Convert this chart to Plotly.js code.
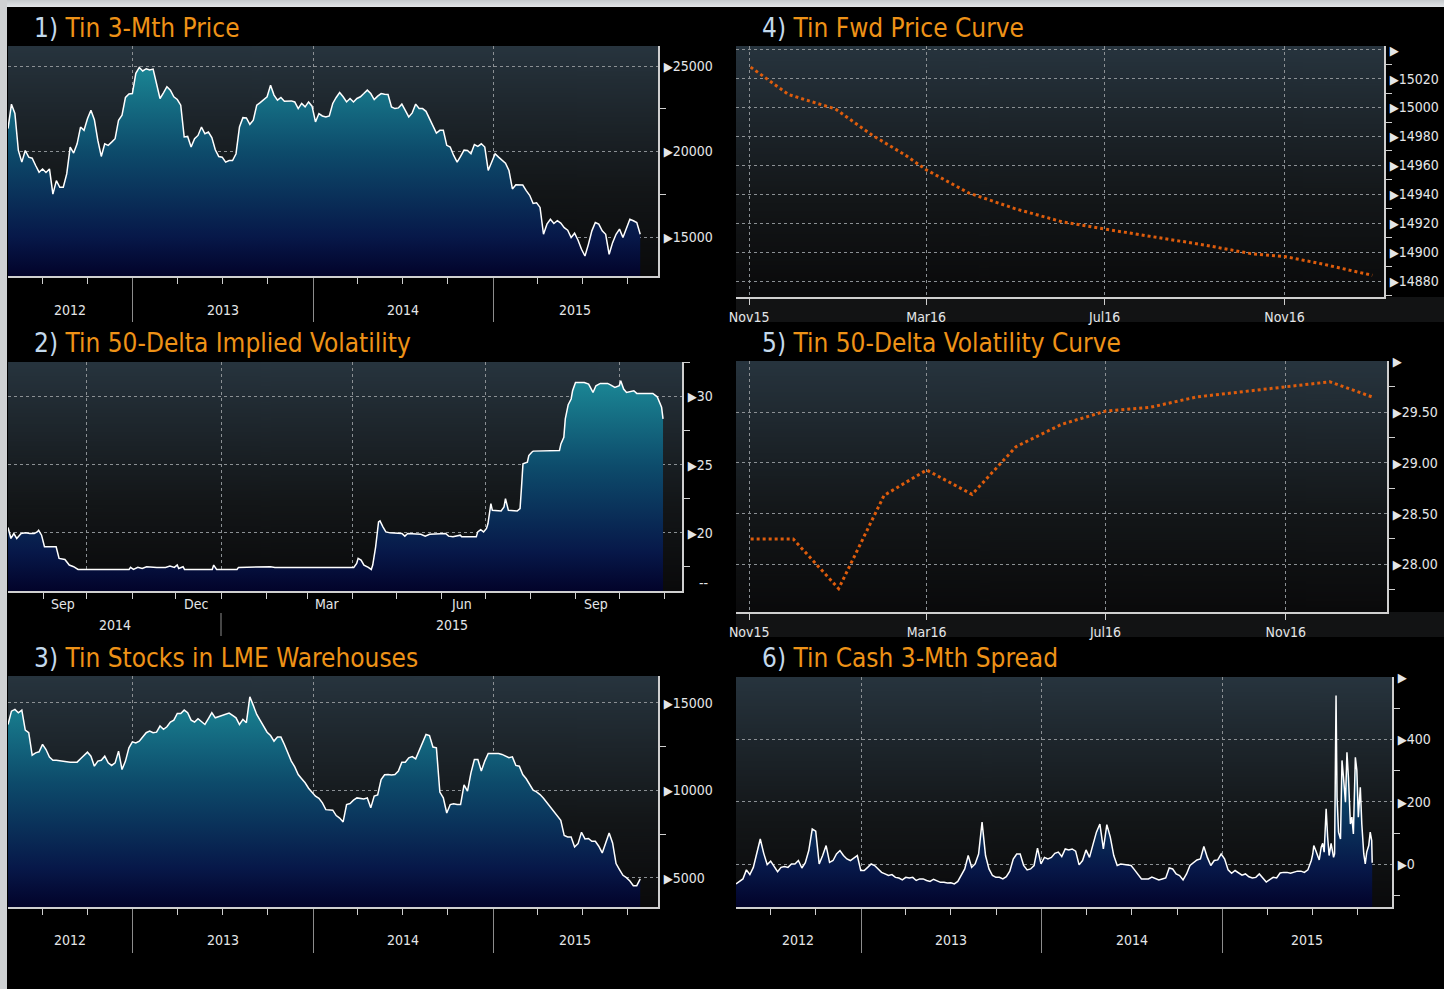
<!DOCTYPE html>
<html><head><meta charset="utf-8">
<script src="https://cdn.plot.ly/plotly-3.0.1.min.js"></script>
<style>
html,body{margin:0;padding:0;background:#000;width:1444px;height:989px;overflow:hidden}
#chart{position:absolute;left:0;top:0;width:1444px;height:989px}
#frameTop{position:absolute;left:0;top:0;width:1444px;height:7px;background:linear-gradient(#c6cacd,#e2e5e8);z-index:5}
#frameLeft{position:absolute;left:0;top:0;width:7px;height:989px;background:#cfd1d3;z-index:5}
</style></head>
<body><div id="chart"></div><div id="frameTop"></div><div id="frameLeft"></div>
<script>
// ---------------- DATA ----------------
const weeklyDates = [
'2012-04-23','2012-04-30','2012-05-07','2012-05-14','2012-05-21','2012-05-28','2012-06-04','2012-06-11','2012-06-18','2012-06-25',
'2012-07-02','2012-07-09','2012-07-16','2012-07-23','2012-07-30','2012-08-06','2012-08-13','2012-08-20','2012-08-27','2012-09-03',
'2012-09-10','2012-09-17','2012-09-24','2012-10-01','2012-10-08','2012-10-15','2012-10-22','2012-10-29','2012-11-05','2012-11-12',
'2012-11-19','2012-11-26','2012-12-03','2012-12-10','2012-12-17','2012-12-24','2012-12-31','2013-01-07','2013-01-14','2013-01-21',
'2013-01-28','2013-02-04','2013-02-11','2013-02-18','2013-02-25','2013-03-04','2013-03-11','2013-03-18','2013-03-25','2013-04-01',
'2013-04-08','2013-04-15','2013-04-22','2013-04-29','2013-05-06','2013-05-13','2013-05-20','2013-05-27','2013-06-03','2013-06-10',
'2013-06-17','2013-06-24','2013-07-01','2013-07-08','2013-07-15','2013-07-22','2013-07-29','2013-08-05','2013-08-12','2013-08-19',
'2013-08-26','2013-09-02','2013-09-09','2013-09-16','2013-09-23','2013-09-30','2013-10-07','2013-10-14','2013-10-21','2013-10-28',
'2013-11-04','2013-11-11','2013-11-18','2013-11-25','2013-12-02','2013-12-09','2013-12-16','2013-12-23','2013-12-30','2014-01-06',
'2014-01-13','2014-01-20','2014-01-27','2014-02-03','2014-02-10','2014-02-17','2014-02-24','2014-03-03','2014-03-10','2014-03-17',
'2014-03-24','2014-03-31','2014-04-07','2014-04-14','2014-04-21','2014-04-28','2014-05-05','2014-05-12','2014-05-19','2014-05-26',
'2014-06-02','2014-06-09','2014-06-16','2014-06-23','2014-06-30','2014-07-07','2014-07-14','2014-07-21','2014-07-28','2014-08-04',
'2014-08-11','2014-08-18','2014-08-25','2014-09-01','2014-09-08','2014-09-15','2014-09-22','2014-09-29','2014-10-06','2014-10-13',
'2014-10-20','2014-10-27','2014-11-03','2014-11-10','2014-11-17','2014-11-24','2014-12-01','2014-12-08','2014-12-15','2014-12-22',
'2014-12-29','2015-01-05','2015-01-12','2015-01-19','2015-01-26','2015-02-02','2015-02-09','2015-02-16','2015-02-23','2015-03-02',
'2015-03-09','2015-03-16','2015-03-23','2015-03-30','2015-04-06','2015-04-13','2015-04-20','2015-04-27','2015-05-04','2015-05-11',
'2015-05-18','2015-05-25','2015-06-01','2015-06-08','2015-06-15','2015-06-22','2015-06-29','2015-07-06','2015-07-13','2015-07-20',
'2015-07-27','2015-08-03','2015-08-10','2015-08-17','2015-08-24','2015-08-31','2015-09-07','2015-09-14','2015-09-21','2015-09-28',
'2015-10-05','2015-10-12','2015-10-19','2015-10-26'];

// 1) Tin 3-Mth Price (USD/t)
const tinPrice = [
21340,22770,22220,20060,19380,20060,19670,19610,19180,18790,
18980,18770,18980,17510,18300,17910,17910,18690,20260,19910,
20450,21430,21240,21920,22410,21860,20650,19710,20450,20360,
20550,20750,21830,22120,23160,23370,23390,24570,24920,24710,
24840,24770,24820,23980,23100,23430,23790,23590,23200,23040,
22710,20850,20880,20260,20750,20940,21430,21040,21140,20810,
20100,19710,19670,19380,19470,19470,19870,21430,21980,21960,
21590,21830,22710,22860,23060,23200,23880,23300,23000,23160,
22940,22960,22960,22900,22510,22810,22610,22900,22650,21730,
22220,22080,22020,22080,22810,23160,23450,23200,22900,23100,
22900,23100,23200,23390,23590,23390,23040,23240,23390,23350,
23330,22610,22510,22550,22770,22410,22020,22260,22770,22510,
22510,22350,21920,21490,21080,21240,21240,20360,20260,19770,
19380,19710,20080,20060,19870,20410,20300,20450,20260,18890,
19380,19870,19670,19470,19320,18890,17810,18060,18060,18040,
17710,17440,16960,17000,16730,15160,15750,16040,15790,15950,
15810,15550,15400,14970,15220,14810,14280,13890,14570,15360,
15850,15750,15360,15160,13990,14670,15160,15460,14970,15460,
16040,15950,15850,15160];

// 3) Tin Stocks in LME Warehouses (t)
const lmeStocks = [
13760,14520,14620,14430,14580,13440,13290,12010,12140,12200,
12620,12330,11900,11720,11720,11690,11650,11610,11610,11610,
11610,11800,11990,12180,11950,11380,11670,11720,11950,11570,
11420,11570,12240,11190,11670,12430,12770,12710,12810,13060,
13290,13380,13290,13320,13670,13480,13630,13900,14010,14390,
14390,14580,14430,14010,13900,14090,13900,13760,14090,14430,
14140,14200,14300,14350,14410,14280,14140,13760,14050,13860,
15340,14850,14330,13990,13670,13320,13130,12810,13040,13040,
12620,12100,11670,11340,10900,10660,10430,10120,9900,9670,
9550,9290,8900,8870,8870,8560,8420,8200,9190,9250,
9440,9570,9550,9510,9570,9000,9670,9740,10620,10890,
10900,10870,10900,11100,11610,11610,11860,11930,11800,12240,
12710,13190,13130,12470,12430,9900,9570,8710,9190,9230,
9190,9190,10310,9950,11000,11760,11760,11100,11670,12100,
12100,12100,12100,12050,11950,11860,11910,11420,11380,10900,
10660,10330,10010,9910,9760,9550,9290,9060,8810,8520,
8290,7420,7340,7340,6770,6960,7610,7230,7250,7090,
7090,6810,6430,7000,7570,7000,5820,5480,5150,5020,
4830,4560,4560,4950];

// 6) Tin Cash 3-Mth Spread (weekly to end of June 2015, then denser)
const spreadWeekly = [
-63,-55,-47,-18,-33,-10,33,81,35,-1,
10,-7,-24,-10,-7,-10,1,1,12,-12,
5,44,113,106,1,28,60,6,12,33,
44,28,17,12,20,28,-20,-20,-10,1,
-4,-15,-26,-31,-36,-33,-42,-44,-50,-42,
-44,-42,-52,-47,-47,-52,-55,-48,-52,-58,
-58,-60,-59,-63,-55,-36,-15,28,-10,1,
33,135,28,-15,-36,-42,-42,-47,-40,-22,
17,33,33,-4,-18,-15,-4,52,1,22,
17,22,35,39,25,49,46,49,42,-2,
12,46,22,63,103,129,49,127,87,28,
-4,1,-1,-4,-4,-18,-31,-47,-47,-47,
-41,-46,-50,-47,-44,-12,-15,-31,-36,-50,
-31,-4,6,14,17,57,22,-4,12,14,
33,17,-18,-29,-20,-29,-35,-31,-40,-44,
-42,-31,-46,-57,-49,-42,-44,-28,-26,-26,
-29,-25,-22,-22,-26,-18,12];
const spreadLateDates = ['2015-07-02','2015-07-04','2015-07-08','2015-07-12','2015-07-15','2015-07-19','2015-07-22','2015-07-25','2015-07-29','2015-08-01',
'2015-08-04','2015-08-08','2015-08-13','2015-08-15','2015-08-18','2015-08-20','2015-08-23','2015-08-27','2015-08-30','2015-09-02',
'2015-09-06','2015-09-09','2015-09-12','2015-09-16','2015-09-19','2015-09-22','2015-09-26','2015-09-29','2015-10-02','2015-10-06',
'2015-10-09','2015-10-13','2015-10-16','2015-10-19','2015-10-23','2015-10-26','2015-10-29','2015-10-30'];
const spreadLate = [33,60,44,22,14,55,67,39,178,87,
28,67,22,33,541,215,103,81,333,279,
199,359,279,129,151,97,343,301,151,247,
129,33,1,39,60,103,76,5];

// 2) Tin 50-Delta Implied Volatility
const volDates = ['2014-08-08','2014-08-10','2014-08-12','2014-08-14','2014-08-17','2014-08-20','2014-08-23','2014-08-26','2014-08-28','2014-08-29',
'2014-08-31','2014-09-02','2014-09-10','2014-09-12','2014-09-16','2014-09-19','2014-09-22','2014-09-25','2014-10-30','2014-10-31',
'2014-11-02','2014-11-05','2014-11-08','2014-11-11','2014-11-18','2014-11-24','2014-11-27','2014-11-30','2014-12-02','2014-12-03',
'2014-12-06','2014-12-07','2014-12-26','2014-12-27','2014-12-29','2015-01-12','2015-01-13','2015-02-03','2015-02-04','2015-02-07',
'2015-04-02','2015-04-04','2015-04-05','2015-04-07','2015-04-09','2015-04-12','2015-04-14','2015-04-15','2015-04-17','2015-04-19',
'2015-04-20','2015-04-22','2015-04-24','2015-04-27','2015-05-05','2015-05-07','2015-05-09','2015-05-18','2015-05-21','2015-05-24',
'2015-06-01','2015-06-04','2015-06-06','2015-06-09','2015-06-14','2015-06-15','2015-06-25','2015-06-26','2015-06-28','2015-06-30',
'2015-07-02','2015-07-03','2015-07-05','2015-07-06','2015-07-12','2015-07-14','2015-07-15','2015-07-17','2015-07-23','2015-07-25',
'2015-07-26','2015-07-27','2015-07-30','2015-07-31','2015-08-02','2015-08-03','2015-08-21','2015-08-22','2015-08-24','2015-08-25',
'2015-08-27','2015-08-29','2015-08-30','2015-09-01','2015-09-07','2015-09-10','2015-09-13','2015-09-15','2015-09-18','2015-09-23',
'2015-09-25','2015-09-28','2015-10-01','2015-10-02','2015-10-04','2015-10-06','2015-10-11','2015-10-13','2015-10-24','2015-10-27',
'2015-10-30','2015-10-31'];
const impliedVol = [20.39,19.59,19.95,19.59,19.95,20.0,19.95,19.95,20.07,20.19,
19.83,18.98,18.98,18.13,18.05,17.64,17.52,17.32,17.32,17.47,
17.32,17.47,17.39,17.52,17.47,17.47,17.57,17.47,17.64,17.39,
17.52,17.32,17.32,17.64,17.32,17.32,17.47,17.57,17.52,17.47,
17.47,17.76,18.13,18.0,17.64,17.47,17.32,17.64,18.98,20.8,
20.88,20.44,20.07,20.0,19.95,19.76,19.95,19.9,19.76,19.9,
19.9,19.95,19.76,19.71,19.83,19.71,19.71,20.07,20.24,20.07,
20.32,20.68,22.14,21.65,21.6,21.9,22.51,21.65,21.6,21.78,
23.36,25.06,25.18,25.67,25.91,25.99,26.03,26.52,27.01,28.35,
29.39,29.81,30.41,31.02,31.02,30.9,30.29,30.78,30.95,30.95,
30.85,30.66,30.78,31.14,30.54,30.29,30.41,30.22,30.22,29.97,
29.2,28.35];

// 4) Tin Fwd Price Curve
const fwdDates = ['2015-11-02','2015-11-13','2015-11-28','2015-12-14','2015-12-30','2016-01-24','2016-02-16','2016-03-01','2016-03-30',
'2016-05-01','2016-06-02','2016-07-01','2016-08-07','2016-09-07','2016-10-09','2016-11-01','2016-11-26','2016-12-31'];
const fwdPrice = [15028,15020,15009,15004,14999,14981,14967,14957,14941,14930,14921,14916,14910,14905,14899,14897,14892,14884];

// 5) Tin 50-Delta Volatility Curve
const volCurveDates = ['2015-11-02','2015-12-01','2016-01-01','2016-02-01','2016-03-01','2016-04-01','2016-05-01','2016-06-01',
'2016-07-01','2016-08-01','2016-09-01','2016-10-01','2016-11-01','2016-12-01','2016-12-30'];
const volCurve = [28.25,28.25,27.76,28.68,28.93,28.69,29.16,29.38,29.51,29.55,29.65,29.70,29.75,29.80,29.65];

// Axis ticks / labels
const yearBounds = ['2013-01-01','2014-01-01','2015-01-01'];
const quarterTicks = ['2012-07-01','2012-10-01','2013-04-01','2013-07-01','2013-10-01','2014-04-01','2014-07-01','2014-10-01','2015-04-01','2015-07-01','2015-10-01'];
const yearLabels = ['2012','2013','2014','2015'];
const yearLabelDates = ['2012-08-27','2013-07-02','2014-07-02','2015-06-16'];
const yearLabelDates6 = ['2012-08-27','2013-07-02','2014-07-02','2015-06-20'];
const volQuarterTicks = ['2014-10-01','2015-01-01','2015-04-01','2015-07-01','2015-10-01'];
const volMonthTicks = ['2014-09-01','2014-11-01','2014-12-01','2015-02-01','2015-03-01','2015-05-01','2015-06-01','2015-08-01','2015-09-01','2015-11-01'];
const volMonthLabels = ['Sep','Dec','Mar','Jun','Sep'];
const volMonthLabelDates = ['2014-09-15','2014-12-15','2015-03-15','2015-06-15','2015-09-15'];
const volYearLabels = ['2014','2015'];
const volYearLabelDates = ['2014-10-20','2015-06-08'];
const curveTicks = ['2015-11-01','2016-03-01','2016-07-01','2016-11-01'];
const curveTickLabels = ['Nov15','Mar16','Jul16','Nov16'];

const priceTicks = [15000,20000,25000], priceMinor = [17500,22500];
const volTicks = [20,25,30], volMinor = [17.5,22.5,27.5,32.5];
const stockTicks = [5000,10000,15000], stockMinor = [7500,12500];
const fwdTicks = [14880,14900,14920,14940,14960,14980,15000,15020,15040];
const fwdTickLabels = ['14880','14900','14920','14940','14960','14980','15000','15020',''];
const fwdMinor = [14870,14890,14910,14930,14950,14970,14990,15010,15030];
const vcTicks = [28,28.5,29,29.5,30];
const vcTickLabels = ['28.00','28.50','29.00','29.50',''];
const vcMinor = [27.75,28.25,28.75,29.25,29.75];
const spreadTicks = [0,200,400,600];
const spreadTickLabels = ['0','200','400',''];
const spreadMinor = [-100,100,300,500];

const titles = [
  ['1)','Tin 3-Mth Price'], ['2)','Tin 50-Delta Implied Volatility'], ['3)','Tin Stocks in LME Warehouses'],
  ['4)','Tin Fwd Price Curve'], ['5)','Tin 50-Delta Volatility Curve'], ['6)','Tin Cash 3-Mth Spread']];

// ---------------- LAYOUT ----------------
const W = 1444, H = 989;
const fx = p => p / W, fy = p => 1 - p / H;
const box = {
  p1:{l:8,r:658,t:46,b:276}, p2:{l:8,r:682,t:362,b:591}, p3:{l:8,r:658,t:676,b:907},
  p4:{l:736,r:1384,t:46,b:297}, p5:{l:736,r:1387,t:361,b:612}, p6:{l:736,r:1392,t:677,b:907}};
const ranges = {
  x1:['2012-04-23','2015-12-01'], x2:['2014-08-08','2015-11-13'], x3:['2012-04-23','2015-12-01'],
  x4:['2015-10-23','2017-01-08'], x5:['2015-10-23','2017-01-09'], x6:['2012-04-23','2015-12-09'],
  y1:[12719,26170], y2:[15.74,32.52], y3:[3343,16526], y4:[14869,15042.6], y5:[27.53,30.005], y6:[-137,600.5]};

const FONT = "'Liberation Sans Narrow','DejaVu Sans Condensed','Arial Narrow',sans-serif";
const TXT = '#e4e6e8', AXL = '#cfcfcf', GRID = '#8b9094';
const TICKSIZE = 14;
const tri = '<span style="font-size:13px">\u25B6</span>';

function gradientURL(stops){
  const c = document.createElement('canvas'); c.width = 4; c.height = 512;
  const g = c.getContext('2d'); const lg = g.createLinearGradient(0,0,0,512);
  stops.forEach(s => lg.addColorStop(s[0], s[1]));
  g.fillStyle = lg; g.fillRect(0,0,4,512);
  return c.toDataURL('image/png');
}
const bgURL = gradientURL([[0,'#27343e'],[0.3,'#1d252b'],[0.62,'#131618'],[1,'#0a0a0b']]);
const areaScale = [[0,'#02032a'],[0.17,'#071849'],[0.54,'#0d4b6b'],[0.9,'#1a8493'],[1,'#1d8e9c']];

function xAxis(b, yid, rng, extra){
  return Object.assign({domain:[fx(b.l),fx(b.r)], anchor:yid, type:'date', range:rng, showline:true, linecolor:AXL, linewidth:2,
    zeroline:false, fixedrange:true, showgrid:true, gridcolor:GRID, griddash:'dot', gridwidth:1}, extra);
}
function yAxis(b, xid, rng, vals, labels, minor){
  return {domain:[fy(b.b),fy(b.t)], anchor:xid, side:'right', range:rng, showline:true, linecolor:AXL, linewidth:2,
    zeroline:false, fixedrange:true, showgrid:true, gridcolor:GRID, griddash:'dot', gridwidth:1,
    tickmode:'array', tickvals:vals, ticktext:labels.map(t => tri + t), ticks:'outside', ticklen:1, tickcolor:'rgba(0,0,0,0)',
    tickfont:{size:TICKSIZE, color:TXT}, ticklabelstandoff:0,
    minor:{tickmode:'array', tickvals:minor, ticks:'outside', ticklen:6, tickcolor:AXL, tickwidth:1, showgrid:false}};
}
const yearAxisExtra = {tickmode:'array', tickvals:yearBounds, ticks:'outside', ticklen:44, tickcolor:'#8c8c8c', tickwidth:1,
  showticklabels:false,
  minor:{tickmode:'array', tickvals:quarterTicks, ticks:'outside', ticklen:6, tickcolor:AXL, tickwidth:1, showgrid:false}};
const curveAxisExtra = {tickmode:'array', tickvals:curveTicks, ticktext:curveTickLabels, ticks:'outside', ticklen:6, tickcolor:AXL,
  tickfont:{size:TICKSIZE, color:TXT}};

const areaLine = {color:'#ffffff', width:1.5};
const traces = [
  {x:weeklyDates, y:tinPrice, xaxis:'x', yaxis:'y', mode:'lines', line:areaLine, fill:'tozeroy',
   fillgradient:{type:'vertical', start:ranges.y1[0], stop:ranges.y1[1], colorscale:areaScale}},
  {x:volDates, y:impliedVol, xaxis:'x2', yaxis:'y2', mode:'lines', line:areaLine, fill:'tozeroy',
   fillgradient:{type:'vertical', start:ranges.y2[0], stop:ranges.y2[1], colorscale:areaScale}},
  {x:weeklyDates, y:lmeStocks, xaxis:'x3', yaxis:'y3', mode:'lines', line:areaLine, fill:'tozeroy',
   fillgradient:{type:'vertical', start:ranges.y3[0], stop:ranges.y3[1], colorscale:areaScale}},
  {x:fwdDates, y:fwdPrice, xaxis:'x4', yaxis:'y4', mode:'lines', line:{color:'#de5c0c', width:3, dash:'dot'}},
  {x:volCurveDates, y:volCurve, xaxis:'x5', yaxis:'y5', mode:'lines', line:{color:'#de5c0c', width:3, dash:'dot'}},
];
const spreadDates = weeklyDates.slice(0, spreadWeekly.length).concat(spreadLateDates);
const spreadVals = spreadWeekly.concat(spreadLate);
traces.push({x:[spreadDates[0], spreadDates[spreadDates.length-1]], y:[ranges.y6[0], ranges.y6[0]], xaxis:'x6', yaxis:'y6',
  mode:'lines', line:{width:0, color:'rgba(0,0,0,0)'}});
traces.push({x:spreadDates, y:spreadVals, xaxis:'x6', yaxis:'y6', mode:'lines', line:areaLine, fill:'tonexty',
  fillgradient:{type:'vertical', start:ranges.y6[0], stop:ranges.y6[1], colorscale:areaScale}});
traces.forEach(t => { t.type = 'scatter'; t.hoverinfo = 'skip'; t.showlegend = false; });

const layout = {
  width:W, height:H, margin:{l:0,r:0,t:0,b:0}, paper_bgcolor:'#000', plot_bgcolor:'rgba(0,0,0,0)', showlegend:false,
  font:{family:FONT, size:TICKSIZE, color:TXT},
  xaxis: xAxis(box.p1,'y',ranges.x1,yearAxisExtra),
  yaxis: yAxis(box.p1,'x',ranges.y1,priceTicks,priceTicks.map(String),priceMinor),
  xaxis2: xAxis(box.p2,'y2',ranges.x2,{tickmode:'array', tickvals:volQuarterTicks, ticks:'outside', ticklen:6, tickcolor:AXL,
    showticklabels:false, minor:{tickmode:'array', tickvals:volMonthTicks, ticks:'outside', ticklen:6, tickcolor:AXL, showgrid:false}}),
  yaxis2: yAxis(box.p2,'x2',ranges.y2,volTicks,volTicks.map(String),volMinor),
  xaxis3: xAxis(box.p3,'y3',ranges.x3,yearAxisExtra),
  yaxis3: yAxis(box.p3,'x3',ranges.y3,stockTicks,stockTicks.map(String),stockMinor),
  xaxis4: xAxis(box.p4,'y4',ranges.x4,curveAxisExtra),
  yaxis4: yAxis(box.p4,'x4',ranges.y4,fwdTicks,fwdTickLabels,fwdMinor),
  xaxis5: xAxis(box.p5,'y5',ranges.x5,curveAxisExtra),
  yaxis5: yAxis(box.p5,'x5',ranges.y5,vcTicks,vcTickLabels,vcMinor),
  xaxis6: xAxis(box.p6,'y6',ranges.x6,yearAxisExtra),
  yaxis6: yAxis(box.p6,'x6',ranges.y6,spreadTicks,spreadTickLabels,spreadMinor),
  images:[], annotations:[], shapes:[]
};

// plot-area gradient backgrounds
Object.values(box).forEach(b => layout.images.push({source:bgURL, xref:'paper', yref:'paper', x:fx(b.l), y:fy(b.t),
  sizex:fx(b.r)-fx(b.l), sizey:fy(b.t)-fy(b.b), xanchor:'left', yanchor:'top', sizing:'stretch', layer:'below'}));

// dark bands behind the curve-panel date labels
[[box.p4.b, 322],[box.p5.b, 637]].forEach(([t,bm]) => layout.shapes.push({type:'rect', xref:'paper', yref:'paper',
  x0:fx(736), x1:1, y0:fy(bm), y1:fy(t), fillcolor:'#121314', line:{width:0}, layer:'below'}));

// titles
const titlePos = [[32,28],[32,343],[32,658],[760,28],[760,343],[760,658]];
titles.forEach((t,i) => layout.annotations.push({xref:'paper', yref:'paper', x:fx(titlePos[i][0]), y:fy(titlePos[i][1]),
  xanchor:'left', yanchor:'middle', showarrow:false,
  text:'<span style="color:#c3d9ec">'+t[0]+'</span> '+t[1], font:{family:FONT, size:26, color:'#ee9217'}}));

// year labels
function yearLabelsFor(xref, dates, ypx){
  yearLabels.forEach((lab,i) => layout.annotations.push({xref:xref, yref:'paper', x:dates[i], y:fy(ypx), xanchor:'center',
    yanchor:'middle', showarrow:false, text:lab, font:{size:TICKSIZE, color:TXT}}));
}
yearLabelsFor('x', yearLabelDates, 310);
yearLabelsFor('x3', yearLabelDates, 940);
yearLabelsFor('x6', yearLabelDates6, 940);
volMonthLabels.forEach((lab,i) => layout.annotations.push({xref:'x2', yref:'paper', x:volMonthLabelDates[i], y:fy(604),
  xanchor:'center', yanchor:'middle', showarrow:false, text:lab, font:{size:TICKSIZE, color:TXT}}));
volYearLabels.forEach((lab,i) => layout.annotations.push({xref:'x2', yref:'paper', x:volYearLabelDates[i], y:fy(625),
  xanchor:'center', yanchor:'middle', showarrow:false, text:lab, font:{size:TICKSIZE, color:TXT}}));
layout.annotations.push({xref:'paper', yref:'y2', x:fx(697), y:16.33, xanchor:'left', yanchor:'middle', showarrow:false,
  text:'--', font:{size:TICKSIZE, color:TXT}});
// year divider under the implied-vol month labels
layout.shapes.push({type:'line', xref:'x2', yref:'paper', x0:'2015-01-01', x1:'2015-01-01', y0:fy(636), y1:fy(613),
  line:{color:'#8c8c8c', width:1}});

Plotly.newPlot('chart', traces, layout, {staticPlot:true, displayModeBar:false});
</script></body></html>
